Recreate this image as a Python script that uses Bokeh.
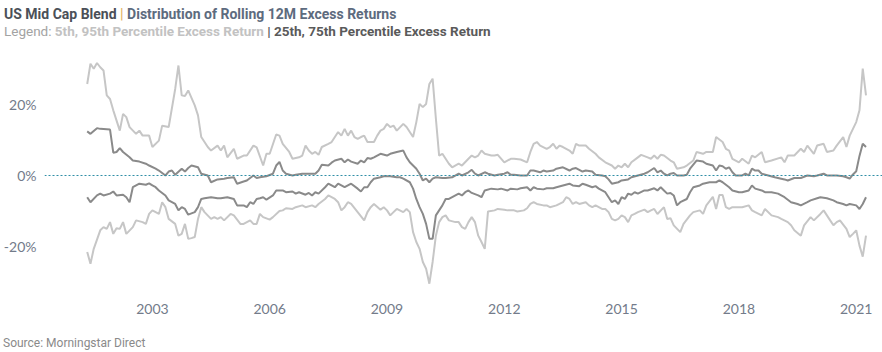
from bokeh.plotting import figure
from bokeh.models import Range1d, FixedTicker, PrintfTickFormatter, Span, Div
from bokeh.layouts import column
from bokeh.embed import file_html
from bokeh.resources import INLINE

# Month-end index: 1 = Jan 2001, 12 = Dec 2001, ... ; x = 2001 + m/12
p95_m = [4,5,6,7,8,9,10,11,12,14,15,16,17,19,20,21,23,24,26,27,29,31,32,33,34,35,37,38,39,41,42,44,45,46,47,49,50,52,53,55,56,58,59,60,62,63,64,66,67,69,70,71,72,73,74,75,76,78,79,80,81,82,83,84,85,86,87,88,89,90,92,93,94,95,96,97,98,99,101,102,104,105,106,107,108,109,110,111,112,113,114,115,116,118,119,121,122,123,124,125,126,128,129,130,132,134,135,137,139,140,141,142,143,145,146,147,148,149,150,152,153,154,155,157,158,160,161,163,165,166,167,168,169,170,171,173,174,176,177,178,179,180,181,183,184,185,187,188,190,191,193,194,196,197,199,200,201,202,204,205,207,208,209,211,212,214,217,218,219,221,223,224,225,227,228,230,231,233,234,236,237,238,240,241,242,243]
p95_v = [25.7,31.4,30.0,31.6,30.4,29.5,22.5,21.5,18.3,12.6,17.3,16.4,13.6,11.7,12.6,11.2,11.2,8.0,9.8,14.0,13.6,24.3,30.9,22.5,22.3,23.9,19.7,16.9,10.8,8.0,7.0,8.4,7.0,8.4,5.1,7.5,4.7,5.6,5.6,8.4,7.9,2.8,6.1,6.1,11.5,11.2,8.9,6.6,4.7,5.1,5.6,8.4,7.0,6.1,6.6,5.8,8.0,8.9,9.4,10.8,12.2,11.2,13.1,11.2,12.6,10.8,10.3,10.8,11.2,9.4,9.4,11.2,12.6,13.1,14.5,13.6,14.0,12.6,14.5,13.6,10.8,15.0,20.1,19.2,20.1,25.7,27.2,16.0,5.6,6.1,4.7,3.3,2.3,3.3,2.8,4.7,5.6,5.1,5.6,7.0,6.1,5.6,5.6,5.8,3.7,4.7,4.7,4.5,3.7,6.6,8.9,9.4,8.4,7.5,8.0,8.9,7.5,8.4,8.0,7.0,6.1,8.9,8.4,8.4,7.5,6.1,5.1,3.7,2.8,1.9,2.8,2.3,3.3,2.3,3.7,5.1,5.8,5.1,4.7,5.6,4.7,5.8,5.6,4.2,3.7,1.9,2.3,2.8,4.2,6.6,6.1,6.6,6.6,10.8,9.4,7.5,7.0,4.7,3.7,4.7,3.3,5.6,5.1,6.6,3.7,4.2,5.1,3.7,5.6,5.6,7.5,6.6,8.4,6.1,8.4,8.9,6.6,7.0,8.4,10.8,8.0,11.2,15.0,18.3,30.0,22.5]

p75_m = [4,5,7,8,11,12,13,14,15,17,18,20,22,23,25,26,28,29,30,31,33,34,35,36,38,39,41,42,44,46,47,49,50,52,53,55,56,57,59,61,62,63,64,65,67,68,70,72,74,75,76,78,79,80,82,83,84,85,87,88,89,90,91,92,94,96,97,99,101,102,103,104,105,106,107,108,109,110,111,113,114,116,118,119,121,122,123,124,126,127,129,130,132,133,134,135,137,139,140,141,143,144,145,147,148,150,152,153,154,156,157,159,160,162,163,164,165,167,168,170,171,173,175,176,178,179,180,181,182,183,184,185,187,188,189,191,193,194,196,197,198,199,200,201,202,203,205,206,207,208,209,210,211,213,215,218,219,221,223,225,227,228,230,231,233,234,236,237,238,239,240,241,242,243]
p75_v = [12.4,11.7,13.3,13.1,12.9,6.4,6.6,7.7,6.6,5.1,4.2,3.9,3.3,2.8,1.9,1.4,0.0,1.1,1.4,0.2,1.9,1.1,2.1,2.8,2.3,0.5,0.0,-1.9,-1.1,-0.9,-0.7,-0.5,-2.3,-1.7,-1.4,0.0,-0.7,-0.5,-0.2,0.5,2.8,3.8,1.4,0.5,0.0,0.2,0.5,0.5,0.5,1.4,3.0,2.8,3.6,4.2,4.7,3.7,4.5,3.9,3.3,4.2,3.7,4.9,4.7,5.1,6.1,5.6,6.1,6.6,7.0,5.1,3.7,2.8,1.9,0.5,-1.4,-0.9,-1.9,-0.9,-0.5,-0.7,-0.7,-0.5,0.5,0.0,0.9,1.6,0.5,0.0,0.9,0.5,0.0,0.2,0.5,0.9,0.2,0.2,0.0,0.0,1.4,1.4,0.9,1.4,1.1,1.4,1.9,2.3,1.4,1.9,2.1,1.1,1.4,1.1,0.2,0.0,-0.2,-1.1,-2.3,-1.9,-1.4,-1.1,-0.5,0.0,0.5,0.9,2.1,0.9,1.4,0.5,0.0,0.5,0.7,0.0,0.0,0.2,1.9,4.2,3.9,3.3,2.8,1.4,2.8,2.6,1.9,2.3,0.9,0.0,0.0,0.5,0.0,1.9,1.4,1.4,0.5,0.0,-0.5,-1.1,-1.4,-0.7,-0.7,0.0,-0.2,0.0,0.5,0.0,0.0,0.0,-0.2,-0.5,-0.9,0.3,1.2,5.5,8.9,8.0]

p25_m = [4,5,7,8,9,11,12,13,15,16,17,18,20,22,23,24,25,26,28,29,31,32,33,34,35,37,38,39,40,42,44,45,47,49,50,52,53,54,55,56,57,58,59,61,62,64,65,67,68,69,71,72,73,74,75,77,78,80,81,82,83,85,87,88,89,90,91,92,94,95,97,99,100,101,103,104,105,106,107,108,109,110,111,112,113,114,115,116,118,119,120,121,122,124,125,126,128,130,131,133,134,136,137,139,140,141,142,144,145,147,148,150,152,153,155,156,157,159,160,161,162,163,164,165,166,167,168,169,170,171,172,173,175,176,178,179,180,181,182,183,184,185,186,188,189,190,192,193,195,197,198,199,201,202,204,205,207,208,209,211,212,214,216,218,220,222,223,225,226,228,229,231,233,234,236,237,238,240,241,242,243]
p25_v = [-6.1,-7.5,-5.6,-5.1,-5.6,-5.1,-4.5,-5.6,-5.4,-6.1,-7.5,-3.3,-2.3,-2.6,-2.2,-2.8,-3.3,-4.2,-5.6,-7.0,-8.0,-9.8,-8.9,-9.4,-11.0,-10.3,-8.9,-6.6,-6.4,-6.1,-6.4,-6.4,-6.1,-6.6,-8.4,-8.4,-8.9,-7.5,-8.0,-6.6,-6.4,-6.1,-6.8,-5.6,-4.2,-4.2,-4.7,-4.5,-5.1,-4.7,-5.4,-4.9,-5.6,-4.7,-5.1,-3.3,-2.3,-3.3,-2.3,-2.8,-3.3,-2.3,-3.7,-4.5,-3.3,-3.3,-1.9,-0.9,-0.5,-0.2,-0.2,-0.5,-0.5,-0.9,-1.9,-3.7,-6.6,-8.9,-10.8,-13.6,-17.8,-17.8,-11.2,-9.8,-8.4,-6.6,-6.6,-6.1,-5.1,-5.6,-4.7,-4.2,-4.9,-5.6,-6.1,-4.2,-3.7,-3.9,-3.7,-4.2,-3.7,-3.9,-3.6,-3.3,-4.2,-3.3,-3.7,-3.9,-3.6,-3.6,-3.3,-2.8,-2.3,-2.8,-3.0,-2.3,-2.6,-3.3,-3.0,-3.7,-4.2,-4.7,-6.1,-7.5,-7.0,-8.0,-6.1,-6.6,-5.1,-5.4,-4.7,-5.1,-4.2,-4.2,-3.6,-4.2,-3.3,-4.2,-5.1,-4.9,-5.6,-8.4,-7.5,-6.6,-4.7,-3.3,-2.8,-2.3,-1.9,-1.9,-1.4,-1.9,-3.3,-4.2,-4.7,-4.7,-4.2,-2.8,-3.7,-4.2,-4.7,-4.7,-5.1,-6.1,-7.5,-8.0,-8.4,-7.5,-7.0,-6.4,-6.1,-6.4,-7.0,-7.5,-8.0,-8.4,-8.0,-8.4,-9.4,-8.0,-6.1]

p05_m = [4,5,6,8,9,10,11,12,13,14,15,16,18,19,21,22,23,24,26,27,28,29,31,32,33,34,35,36,37,38,39,40,42,43,44,45,46,48,49,51,52,54,55,56,57,58,60,61,63,64,65,67,68,70,71,73,74,75,77,78,80,81,82,83,84,85,87,89,90,91,92,94,95,96,97,98,99,101,102,103,104,105,106,107,108,109,110,111,112,113,114,115,117,118,119,120,121,122,123,124,125,126,127,129,130,132,133,135,136,138,139,140,141,142,144,145,146,148,150,151,152,153,154,155,157,158,159,160,162,163,164,165,166,167,168,169,170,171,172,173,175,176,177,178,179,181,182,183,184,186,187,189,190,192,193,194,196,197,198,199,200,201,202,204,205,207,208,209,211,212,214,216,217,219,220,221,223,224,226,227,229,230,232,233,234,235,237,238,239,240,241,242,243]
p05_v = [-21.5,-24.8,-20.6,-15.4,-14.5,-15.0,-13.1,-16.4,-14.8,-15.0,-13.1,-16.4,-14.5,-12.6,-13.1,-13.6,-10.8,-9.8,-10.8,-7.5,-8.9,-12.2,-13.6,-16.9,-16.4,-13.6,-17.8,-17.6,-17.3,-12.2,-8.9,-10.3,-12.2,-11.7,-12.2,-11.7,-12.6,-10.8,-11.2,-13.6,-13.6,-12.6,-13.6,-13.6,-10.8,-11.7,-12.4,-11.7,-10.0,-9.8,-9.2,-9.4,-8.9,-8.4,-8.9,-8.4,-8.9,-8.0,-6.6,-5.6,-6.6,-7.5,-9.8,-8.9,-7.5,-8.0,-10.3,-12.6,-10.3,-8.9,-8.0,-9.6,-8.9,-9.8,-11.2,-10.3,-9.4,-10.3,-9.4,-10.3,-15.9,-18.7,-20.6,-24.3,-26.2,-30.4,-24.3,-16.9,-13.1,-11.7,-11.2,-12.6,-13.1,-13.1,-14.5,-15.0,-13.1,-11.7,-13.1,-16.9,-18.7,-20.6,-10.1,-9.8,-9.4,-9.6,-9.8,-9.8,-10.1,-9.8,-9.2,-8.0,-7.5,-8.0,-8.4,-8.4,-8.9,-8.4,-7.5,-6.1,-6.6,-8.0,-7.5,-8.0,-7.5,-8.4,-8.9,-8.4,-9.4,-9.4,-10.3,-12.2,-12.6,-12.2,-11.2,-11.7,-13.1,-11.2,-10.8,-10.3,-9.6,-10.3,-9.8,-9.4,-10.8,-8.9,-12.2,-12.0,-14.0,-15.9,-13.6,-11.2,-10.3,-9.8,-10.8,-8.4,-6.0,-9.4,-5.5,-5.5,-8.9,-9.4,-8.9,-8.9,-8.9,-8.4,-9.8,-10.3,-11.2,-9.4,-11.2,-11.7,-12.2,-13.1,-14.0,-15.4,-16.9,-14.0,-11.7,-12.6,-10.8,-9.8,-12.6,-14.0,-13.1,-12.6,-15.0,-17.3,-16.4,-15.4,-19.7,-22.8,-16.9]

year_ticks = [2003, 2006, 2009, 2012, 2015, 2018, 2021]
pct_ticks = [-20, 0, 20]


def to_year(months):
    return [2001 + m / 12 for m in months]


p = figure(width=882, height=290, output_backend="svg", toolbar_location=None,
           x_range=Range1d(2000.241, 2021.672), y_range=Range1d(-32.87, 35.11),
           min_border_left=43, min_border_right=0, min_border_top=6, min_border_bottom=42)
p.grid.visible = False
p.outline_line_color = None
p.background_fill_color = "white"
p.border_fill_color = "white"

for ax in (p.xaxis[0], p.yaxis[0]):
    ax.axis_line_color = None
    ax.major_tick_line_color = None
    ax.minor_tick_line_color = None
    ax.major_tick_out = 0
    ax.major_tick_in = 0
    ax.minor_tick_out = 0
    ax.major_label_text_font = "Lato"
    ax.major_label_text_font_size = "14px"
    ax.major_label_text_color = "#737b8a"

p.yaxis.major_label_standoff = 8
p.xaxis.major_label_standoff = 11

p.xaxis.ticker = FixedTicker(ticks=year_ticks)
p.yaxis.ticker = FixedTicker(ticks=pct_ticks)
p.yaxis.formatter = PrintfTickFormatter(format="%d%%")

light = "#c6c6c6"
dark = "#8a8a8a"

p.add_layout(Span(location=0, dimension="width", line_color="#2f8ea6",
                  line_dash="2 2", line_width=1))

p.line(to_year(p95_m), p95_v, line_color=light, line_width=2)
p.line(to_year(p05_m), p05_v, line_color=light, line_width=2)
p.line(to_year(p75_m), p75_v, line_color=dark, line_width=2)
p.line(to_year(p25_m), p25_v, line_color=dark, line_width=2)

title_html = (
    '<div style="font-family:Roboto, sans-serif;font-size:14px;line-height:17px;'
    'padding:6px 0 0 4px;white-space:nowrap;">'
    '<b style="color:#4b5058">US Mid Cap Blend</b> '
    '<b style="color:#e3b567">|</b> '
    '<b style="color:#5d6b7e">Distribution of Rolling 12M Excess Returns</b><br>'
    '<span style="font-size:13.5px;">'
    '<span style="color:#a3a3a3">Legend: </span>'
    '<b style="color:#c2c2c2">5th, 95th Percentile Excess Return</b> '
    '<b style="color:#5a5a5a">|</b> '
    '<b style="color:#5a5a5a">25th, 75th Percentile Excess Return</b></span></div>'
)
title = Div(text=title_html, width=882, height=44, margin=(0, 0, 0, 0))

source_html = (
    '<div style="font-family:Roboto, sans-serif;font-size:12px;line-height:18px;'
    'padding:0 0 0 3px;color:#8a8a8a;white-space:nowrap;">Source: Morningstar Direct</div>'
)
source = Div(text=source_html, width=882, height=18, margin=(0, 0, 0, 0))

layout = column(title, p, source, spacing=0)

open("out.html", "w").write(file_html(layout, INLINE))
